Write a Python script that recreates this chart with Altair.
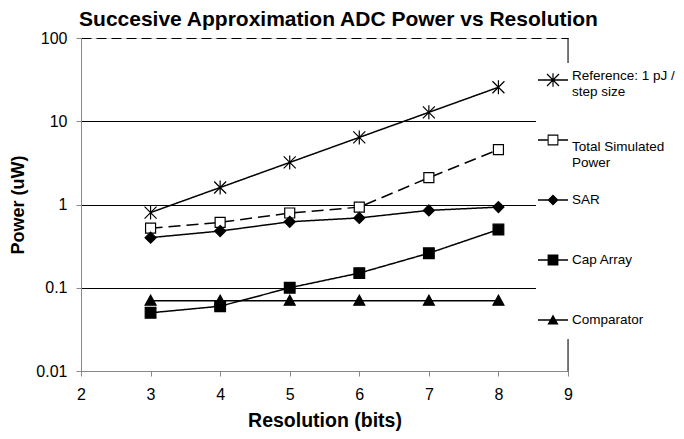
import altair as alt
import pandas as pd

# ---- data ----
resolution = [3, 4, 5, 6, 7, 8]
reference = [0.8, 1.6, 3.2, 6.4, 12.8, 25.6]
total_sim = [0.52, 0.61, 0.79, 0.93, 2.1, 4.56]
sar = [0.40, 0.48, 0.62, 0.69, 0.85, 0.93]
cap_array = [0.05, 0.06, 0.10, 0.15, 0.26, 0.50]
comparator = [0.07, 0.07, 0.07, 0.07, 0.07, 0.07]

series_names = [
    "Reference: 1 pJ / step size",
    "Total Simulated Power",
    "SAR",
    "Cap Array",
    "Comparator",
]
series_values = [reference, total_sim, sar, cap_array, comparator]

x_ticks = [2, 3, 4, 5, 6, 7, 8, 9]
y_ticks = [0.01, 0.1, 1, 10, 100]

rows = []
for name, vals in zip(series_names, series_values):
    for xv, yv in zip(resolution, vals):
        rows.append({"x": xv, "power": yv, "series": name})
df = pd.DataFrame(rows)

FONT = "Liberation Sans"

plot_shapes = {
    series_names[0]: "M-1.2,-1.2L1.2,1.2M-1.2,1.2L1.2,-1.2M0,-1.4L0,1.4",
    series_names[1]: "M-1,-1L1,-1L1,1L-1,1Z",
    series_names[2]: "M0,-1.1L1.1,0L0,1.1L-1.1,0Z",
    series_names[3]: "M-1.07,-1.07L1.07,-1.07L1.07,1.07L-1.07,1.07Z",
    series_names[4]: "M0,-1.1L1.1,0.9L-1.1,0.9Z",
}
plot_fill = {
    series_names[0]: "black",
    series_names[1]: "white",
    series_names[2]: "black",
    series_names[3]: "black",
    series_names[4]: "black",
}
line_dash = {
    series_names[0]: [1, 0],
    series_names[1]: [12, 6],
    series_names[2]: [1, 0],
    series_names[3]: [1, 0],
    series_names[4]: [1, 0],
}
# legend symbols drawn only with filled outlines: a short line with the marker on it
LINE = "M-1,-0.05L1,-0.05L1,0.05L-1,0.05Z"
legend_paths = [
    LINE
    + "M-0.372,-0.428L0.428,0.372L0.372,0.428L-0.428,-0.372Z"
    + "M-0.428,0.372L0.372,-0.428L0.428,-0.372L-0.372,0.428Z"
    + "M-0.04,-0.45L0.04,-0.45L0.04,0.45L-0.04,0.45Z",
    "M-1,-0.05L-0.36,-0.05L-0.36,0.05L-1,0.05Z"
    + "M0.36,-0.05L1,-0.05L1,0.05L0.36,0.05Z"
    + "M-0.36,-0.36L0.36,-0.36L0.36,0.36L-0.36,0.36Z"
    + "M-0.29,-0.29L-0.29,0.29L0.29,0.29L0.29,-0.29Z",
    LINE + "M0,-0.37L0.37,0L0,0.37L-0.37,0Z",
    LINE + "M-0.36,-0.36L0.36,-0.36L0.36,0.36L-0.36,0.36Z",
    LINE + "M0,-0.37L0.37,0.3L-0.37,0.3Z",
]

x_enc = alt.X(
    "x:Q",
    scale=alt.Scale(domain=[2, 9], nice=False, zero=False),
    axis=alt.Axis(
        values=x_ticks, title="Resolution (bits)", grid=False,
        tickSize=5, labelPadding=10, titlePadding=9, labelFlush=False,
        labelFontSize=16, titleFontSize=19.5, format="d",
    ),
)
y_enc = alt.Y(
    "power:Q",
    scale=alt.Scale(type="log", domain=[0.01, 100], nice=False),
    axis=alt.Axis(
        values=y_ticks, title="Power (uW)", grid=True, format="~g",
        tickSize=5, labelPadding=9, titlePadding=8, labelFlush=False,
        labelFontSize=16, titleFontSize=18,
        gridColor="black", gridWidth=1,
        gridDash={"condition": {"test": "datum.value >= 99", "value": [10, 5]}, "value": []},
    ),
)

base = alt.Chart(df)

line_layers = []
point_layers = []
for i, name in enumerate(series_names):
    sub = base.transform_filter(alt.datum.series == name)
    line_layers.append(
        sub.mark_line(color="black", strokeWidth=1.5, strokeDash=line_dash[name]).encode(
            x=x_enc if i == 0 else "x:Q",
            y=y_enc if i == 0 else "power:Q",
        )
    )
    point_layers.append(
        sub.mark_point(
            shape=plot_shapes[name], size=100, filled=True,
            fill=plot_fill[name], stroke="black", strokeWidth=1.2, opacity=1,
        ).encode(x="x:Q", y="power:Q")
    )

right_edge = alt.Chart(pd.DataFrame({"edge": [9]})).mark_rule(
    color="black", strokeWidth=1
).encode(x="edge:Q")

baseline_expr = (
    "datum.label == 'Reference: 1 pJ / step size' ? 'alphabetic' : "
    "datum.label == 'Total Simulated Power' ? 'top' : 'middle'"
)
legend_def = alt.Legend(
    title=" ",
    titleOrient="bottom",
    titleFontSize=10,
    titlePadding=0,
    orient="none",
    legendX=455,
    legendY=25,
    padding=2,
    fillColor="white",
    direction="vertical",
    gridAlign="all",
    symbolSize=900,
    symbolFillColor="black",
    symbolStrokeWidth=0,
    symbolOpacity=1,
    labelFont=FONT,
    labelFontSize=13.5,
    labelColor="black",
    labelOffset=4,
    labelBaseline={"expr": baseline_expr},
    rowPadding=16,
    labelExpr=(
        "datum.label == 'Reference: 1 pJ / step size' ? ['Reference: 1 pJ /', 'step size'] : "
        "datum.label == 'Total Simulated Power' ? ['Total Simulated', 'Power'] : datum.label"
    ),
)

# invisible layer that only carries the legend (symbols = line with marker)
legend_layer = base.mark_point(
    filled=True, size=900, color="black", opacity=0
).encode(
    x="x:Q",
    y="power:Q",
    shape=alt.Shape(
        "series:N",
        scale=alt.Scale(domain=series_names, range=legend_paths),
        legend=legend_def,
    ),
)

chart = (
    alt.layer(*line_layers, *point_layers, right_edge, legend_layer)
    .properties(
        width=487,
        height=333,
        autosize=alt.AutoSizeParams(type="none"),
        padding={"left": 73, "top": 30, "right": 108, "bottom": 60},
        title=alt.TitleParams(
            "Succesive Approximation ADC Power vs Resolution",
            font=FONT, fontSize=21, fontWeight="bold", color="black",
            anchor="middle", dx=14, dy=10, offset=10,
        ),
    )
    .configure_view(stroke=None)
    .configure_axis(
        labelFont=FONT, titleFont=FONT, labelColor="black", titleColor="black",
        domainColor="black", tickColor="black", titleFontWeight="bold",
        domainWidth=1, tickWidth=1,
    )
    .configure(background="white")
)

chart.save("out.html", embed_options={"renderer": "svg", "actions": False})
